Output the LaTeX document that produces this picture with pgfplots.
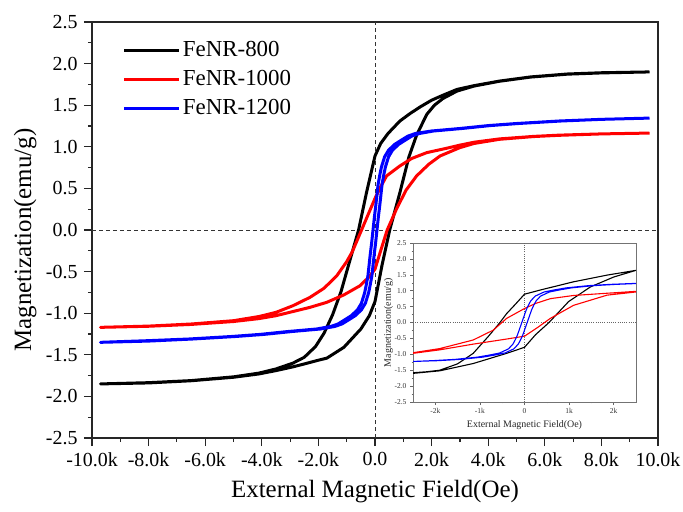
\documentclass[border=0pt]{standalone}
\usepackage{pgfplots}
\pgfplotsset{compat=1.18}
\usepackage{fontspec}
\setmainfont{Liberation Serif}

\pgfplotstableread{
H M
9.7 1.90
8 1.89
6.8 1.875
5.5 1.84
4.4 1.79
3.5 1.735
2.9 1.69
2.4 1.62
2.0 1.56
1.6 1.48
1.24 1.40
0.88 1.31
0.46 1.16
0.2 1.04
0 0.89
-0.3 0.45
-0.58 0
-0.9 -0.38
-1.2 -0.74
-1.5 -1.02
-1.8 -1.24
-2.1 -1.40
-2.5 -1.53
-2.9 -1.60
-3.5 -1.67
-4.1 -1.72
-5 -1.765
-6.5 -1.81
-8 -1.835
-9.7 -1.85
-8 -1.838
-6.5 -1.812
-5 -1.77
-4.1 -1.73
-3.5 -1.69
-2.9 -1.645
-2.5 -1.61
-2.0 -1.565
-1.7 -1.54
-1.1 -1.41
-0.5 -1.19
-0.2 -1.03
0 -0.86
0.25 -0.42
0.52 0
0.88 0.45
1.2 0.88
1.47 1.14
1.83 1.39
2.1 1.50
2.4 1.58
2.9 1.67
3.5 1.73
4.4 1.788
5.5 1.838
6.8 1.873
8 1.888
9.7 1.90
}\blackloop

\pgfplotstableread{
H M
9.7 1.165
8 1.155
6.5 1.14
5.6 1.125
4.4 1.095
3.5 1.055
3.0 1.02
2.5 0.98
1.83 0.93
1.3 0.86
0.88 0.77
0.41 0.65
0.2 0.52
0 0.38
-0.2 0.22
-0.4 0.06
-0.6 -0.10
-0.8 -0.26
-1.0 -0.38
-1.35 -0.55
-1.8 -0.70
-2.3 -0.81
-2.9 -0.91
-3.5 -0.99
-4.1 -1.04
-5 -1.09
-6.5 -1.13
-8 -1.155
-9.7 -1.17
-8 -1.157
-6.5 -1.135
-5 -1.10
-4.1 -1.065
-3.5 -1.03
-2.9 -0.98
-2.3 -0.93
-1.71 -0.87
-1.1 -0.78
-0.53 -0.67
-0.2 -0.56
0 -0.47
0.2 -0.25
0.43 0
0.77 0.26
1.1 0.48
1.47 0.65
1.9 0.79
2.3 0.89
3.0 0.99
3.5 1.04
4.4 1.09
5.6 1.123
6.5 1.138
8 1.155
9.7 1.165
}\redloop

\pgfplotstableread{
H M
9.7 1.345
8 1.33
6.5 1.31
5 1.28
4 1.255
3 1.22
2 1.19
1.43 1.16
1.17 1.13
0.93 1.08
0.70 1.03
0.48 0.96
0.34 0.88
0.23 0.76
0.18 0.68
0.11 0.55
0.03 0.30
-0.02 0.16
-0.07 0
-0.12 -0.16
-0.17 -0.30
-0.25 -0.55
-0.32 -0.68
-0.37 -0.76
-0.48 -0.88
-0.62 -0.96
-0.84 -1.03
-1.07 -1.08
-1.31 -1.13
-1.57 -1.16
-2.07 -1.19
-3.07 -1.22
-4.07 -1.255
-5.07 -1.28
-6.57 -1.31
-8 -1.33
-9.7 -1.35
-8 -1.335
-6.43 -1.31
-4.93 -1.28
-3.93 -1.255
-2.93 -1.22
-1.93 -1.19
-1.43 -1.16
-1.17 -1.13
-0.93 -1.08
-0.70 -1.03
-0.48 -0.96
-0.34 -0.88
-0.23 -0.76
-0.18 -0.68
-0.11 -0.55
-0.03 -0.30
0.02 -0.16
0.07 0
0.12 0.16
0.17 0.30
0.25 0.55
0.32 0.68
0.37 0.76
0.48 0.88
0.62 0.96
0.84 1.03
1.07 1.08
1.31 1.13
1.57 1.16
2.07 1.19
3.07 1.22
4.07 1.255
5.07 1.28
6.57 1.31
8 1.33
9.7 1.345
}\blueloop

\pgfplotstableread{
H M
2.5 1.64
1.85 1.49
1.1 1.28
0.35 1.02
0 0.89
-0.2 0.58
-0.4 0.28
-0.55 0
-0.8 -0.42
-1.15 -0.97
-1.5 -1.30
-1.9 -1.50
-2.2 -1.55
-2.5 -1.58
-2.5 -1.60
-1.9 -1.52
-1.15 -1.29
-0.4 -0.97
0 -0.78
0.25 -0.38
0.55 0
0.99 0.66
1.48 1.12
2.0 1.43
2.5 1.64
}\insetblack

\pgfplotstableread{
H M
2.5 0.98
1.85 0.92
1.1 0.85
0.58 0.75
0.25 0.60
0 0.44
-0.4 0.13
-0.7 -0.24
-1.15 -0.55
-1.9 -0.82
-2.5 -0.95
-2.5 -0.97
-1.9 -0.86
-1.15 -0.68
-0.4 -0.52
0 -0.43
0.3 -0.15
0.58 0.13
1.1 0.54
1.85 0.86
2.5 0.96
}\insetred

\pgfplotstableread{
H M
2.5 1.23
1.94 1.20
1.44 1.16
0.94 1.09
0.69 1.03
0.44 0.96
0.24 0.83
0.14 0.68
0.09 0.55
0.04 0.40
-0.01 0.20
-0.06 0
-0.11 -0.20
-0.16 -0.40
-0.21 -0.55
-0.26 -0.68
-0.36 -0.83
-0.56 -0.96
-0.81 -1.03
-1.06 -1.09
-1.56 -1.16
-2.06 -1.20
-2.5 -1.225
-1.94 -1.20
-1.44 -1.16
-0.94 -1.09
-0.69 -1.03
-0.44 -0.96
-0.24 -0.83
-0.14 -0.68
-0.09 -0.55
-0.04 -0.40
0.01 -0.20
0.06 0
0.11 0.20
0.16 0.40
0.21 0.55
0.26 0.68
0.36 0.83
0.56 0.96
0.81 1.03
1.06 1.09
1.56 1.16
2.06 1.20
2.5 1.225
}\insetblue

\begin{document}
\begin{tikzpicture}
\useasboundingbox (-92bp,-74bp) rectangle (591bp,438bp);
\begin{axis}[
  at={(0,0)}, anchor=south west,
  scale only axis, width=566bp, height=416bp,
  xmin=-10, xmax=10, ymin=-2.5, ymax=2.5,
  axis line style={line width=1.3bp, black!85},
  xtick={-10,-8,-6,-4,-2,0,2,4,6,8,10},
  xticklabels={-10.0k,-8.0k,-6.0k,-4.0k,-2.0k,0.0,2.0k,4.0k,6.0k,8.0k,10.0k},
  minor x tick num=1,
  ytick={-2.5,-2,-1.5,-1,-0.5,0,0.5,1,1.5,2,2.5},
  yticklabels={-2.5,-2.0,-1.5,-1.0,-0.5,0.0,0.5,1.0,1.5,2.0,2.5},
  minor y tick num=1,
  tick pos=left, tick align=outside,
  major tick length=8bp, minor tick length=4bp,
  every tick/.style={line width=1.2bp, black!85},
  tick label style={font=\fontsize{20}{24}\selectfont},
  xticklabel style={yshift=-3bp},
  yticklabel style={xshift=-3bp},
  xlabel={External Magnetic Field(Oe)},
  ylabel={Magnetization(emu/g)},
  label style={font=\fontsize{25}{30}\selectfont},
  xlabel style={at={(axis description cs:0.5,-0.128)}, anchor=center},
  ylabel style={at={(axis description cs:-0.118,0.476)}, anchor=center},
  legend style={at={(axis description cs:0.049,0.969)}, anchor=north west,
    draw=none, fill=none, font=\fontsize{23}{27}\selectfont, row sep=3bp,
    nodes={text height=17bp, text depth=5bp, inner sep=2bp}},
  legend cell align=left,
  legend image code/.code={\draw[#1, line width=3bp] (0bp,0bp) -- (55bp,0bp);},
]
\draw[black!80, dash pattern=on 4bp off 3bp, line width=0.8bp] (axis cs:0,-2.5) -- (axis cs:0,2.5);
\draw[black!80, dash pattern=on 4bp off 3bp, line width=0.8bp] (axis cs:-10,0) -- (axis cs:10,0);
\addplot[black, line width=3bp, line join=round] table[x=H,y=M] {\blackloop};
\addlegendentry{FeNR-800}
\addplot[red, line width=3bp, line join=round] table[x=H,y=M] {\redloop};
\addlegendentry{FeNR-1000}
\addplot[blue, line width=3bp, line join=round] table[x=H,y=M] {\blueloop};
\addlegendentry{FeNR-1200}
\end{axis}

\begin{axis}[
  at={(321bp,36bp)}, anchor=south west,
  scale only axis, width=223bp, height=159bp,
  xmin=-2.5, xmax=2.5, ymin=-2.5, ymax=2.5,
  axis background/.style={fill=white},
  axis line style={line width=0.7bp, black!55},
  xtick={-2,-1,0,1,2}, xticklabels={-2k,-1k,0,1k,2k},
  minor x tick num=1,
  ytick={-2.5,-2,-1.5,-1,-0.5,0,0.5,1,1.5,2,2.5},
  yticklabels={-2.5,-2.0,-1.5,-1.0,-0.5,0.0,0.5,1.0,1.5,2.0,2.5},
  minor y tick num=1,
  tick pos=left, tick align=outside,
  major tick length=3bp, minor tick length=1.5bp,
  every tick/.style={line width=0.5bp, black!60},
  tick label style={font=\fontsize{7.5}{8}\selectfont, text=black!80},
  xlabel={External Magnetic Field(Oe)},
  ylabel={Magnetization(emu/g)},
  label style={font=\fontsize{10}{12}\selectfont, text=black!85},
  xlabel style={at={(axis description cs:0.5,-0.145)}, anchor=center},
  ylabel style={at={(axis description cs:-0.11,0.5)}, anchor=center},
]
\draw[black!60, dash pattern=on 1bp off 1.2bp, line width=0.5bp] (axis cs:0,-2.5) -- (axis cs:0,2.5);
\draw[black!60, dash pattern=on 1bp off 1.2bp, line width=0.5bp] (axis cs:-2.5,0) -- (axis cs:2.5,0);
\addplot[black, line width=1.1bp, line join=round] table[x=H,y=M] {\insetblack};
\addplot[red, line width=1.1bp, line join=round] table[x=H,y=M] {\insetred};
\addplot[blue, line width=1.1bp, line join=round] table[x=H,y=M] {\insetblue};
\end{axis}
\end{tikzpicture}
\end{document}
